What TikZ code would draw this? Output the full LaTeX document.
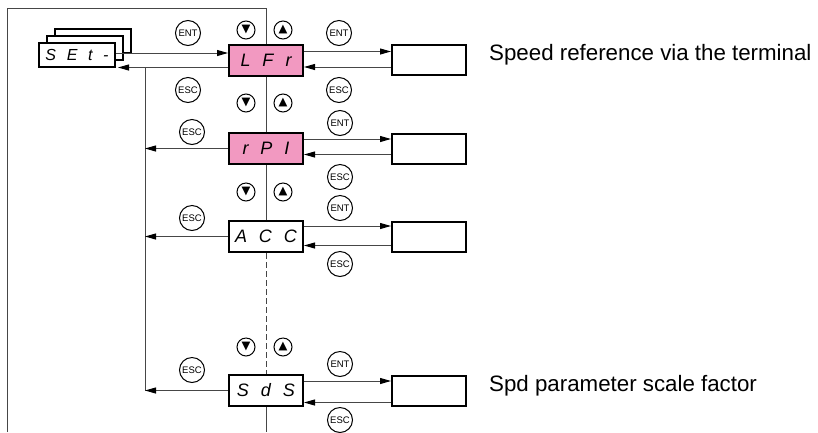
\documentclass[tikz,border=0pt]{standalone}
\usepackage{fontspec}
\setmainfont{Liberation Sans}
\newfontfamily\dispfont[WordSpace=2.4]{Liberation Sans}
\newfontfamily\symfont{DejaVu Sans}
\usetikzlibrary{arrows.meta, positioning}
\definecolor{menupink}{RGB}{242,153,193}
\definecolor{wiregray}{RGB}{70,70,70}
\tikzset{
  display/.style = {rectangle, draw=black, line width=2pt, fill=white, minimum width=74pt, minimum height=31pt, inner sep=0pt, font=\dispfont\itshape\fontsize{18}{20}\selectfont},
  pinkdisplay/.style = {display, fill=menupink},
  menustack/.style = {display, minimum width=76pt, minimum height=24pt, font=\dispfont\itshape\fontsize{16}{18}\selectfont},
  valuebox/.style = {rectangle, draw=black, line width=2pt, minimum width=74pt, minimum height=30pt, inner sep=0pt},
  key/.style = {circle, draw=black, line width=1pt, fill=white, minimum size=25pt, inner sep=0pt, font=\fontsize{9.5}{9.5}\selectfont},
  arrowkey/.style = {circle, draw=black, line width=1pt, fill=white, minimum size=18pt, inner sep=0pt, font=\symfont\fontsize{11.5}{11.5}\selectfont},
  wire/.style = {draw=wiregray, line width=1pt},
  link/.style = {wire, -{Triangle[length=11pt,width=6pt,color=black]}},
  note/.style = {anchor=west, inner sep=0pt, font=\fontsize{22.3}{26}\selectfont}
}
\begin{document}
\begin{tikzpicture}[x=1pt, y=-1pt]
  \useasboundingbox (0,0) rectangle (818,432);

  % Outer frame and menu spine
  \coordinate (spinetop) at (266,8);
  \coordinate (spinebot) at (266,432);
  \coordinate (escbus) at (145,0);
  \draw[wire] (7,432) -- (7,8) -- (spinetop);

  % Menu stack (SEt-)
  \node (set3) [menustack] at (93,41) {};
  \node (set2) [menustack] at (85,48) {};
  \node (set) [menustack] at (77,55) {S E t -};

  % Parameter displays
  \node (lfr) [pinkdisplay] at (266,60) {L F r};
  \node (rpi) [pinkdisplay] at (266,148.5) {r P I};
  \node (acc) [display] at (266,236.5) {A C C};
  \node (sds) [display] at (266,390.5) {S d S};

  % Value boxes
  \node (val1) [valuebox, right=87pt of lfr] {};
  \node (val2) [valuebox, right=87pt of rpi] {};
  \node (val3) [valuebox, right=87pt of acc] {};
  \node (val4) [valuebox, right=87pt of sds] {};

  % Notes
  \node (note1) [note] at (489,55) {Speed reference via the terminal};
  \node (note4) [note] at (489,386) {Spd parameter scale factor};

  % Spine between displays
  \draw[wire] (spinetop) -- (lfr.north);
  \draw[wire] (lfr) -- (rpi);
  \draw[wire] (rpi) -- (acc);
  \draw[wire, dashed, dash pattern=on 6pt off 3pt] (acc) -- (sds);
  \draw[wire] (sds.south) -- (spinebot);

  % SEt- <-> LFr
  \draw[link] ([yshift=2pt]set.east) -- ([yshift=2pt]set.east -| lfr.west);
  \draw[link] ([yshift=9pt]lfr.south west) -- ([yshift=9pt, xshift=2pt]lfr.south west -| set.east);
  \draw[wire] ([yshift=9pt]lfr.south west -| escbus) -- (sds.west -| escbus);

  % ESC back to the menu
  \draw[link] (rpi.west) -- (rpi.west -| escbus);
  \draw[link] (acc.west) -- (acc.west -| escbus);
  \draw[link] (sds.west) -- (sds.west -| escbus);

  % Displays <-> value boxes
  \draw[link] ([yshift=-8pt]lfr.north east) -- ([yshift=-8pt]lfr.north east -| val1.west);
  \draw[link] ([yshift=9pt]val1.south west) -- ([yshift=9pt]val1.south west -| lfr.east);
  \draw[link] ([yshift=-7pt]rpi.north east) -- ([yshift=-7pt]rpi.north east -| val2.west);
  \draw[link] ([yshift=10pt]val2.south west) -- ([yshift=10pt]val2.south west -| rpi.east);
  \draw[link] ([yshift=-6pt]acc.north east) -- ([yshift=-6pt]acc.north east -| val3.west);
  \draw[link] ([yshift=7pt]val3.south west) -- ([yshift=7pt]val3.south west -| acc.east);
  \draw[link] ([yshift=-7pt]sds.north east) -- ([yshift=-7pt]sds.north east -| val4.west);
  \draw[link] ([yshift=4pt]val4.south west) -- ([yshift=4pt]val4.south west -| sds.east);

  % Keys, first row
  \node (dnA) [arrowkey] at (246,30) {▼};
  \node (upA) [arrowkey] at (283,30) {▲};
  \node (entA) [key] at (188,33) {ENT};
  \node (escA) [key] at (188,90) {ESC};
  \node (entA2) [key] at (339,33) {ENT};
  \node (escA2) [key] at (339,90) {ESC};

  % Keys, second row
  \node (dnB) [arrowkey] at (246,103) {▼};
  \node (upB) [arrowkey] at (283,103) {▲};
  \node (escB) [key] at (192,132) {ESC};
  \node (entB2) [key] at (340,123) {ENT};
  \node (escB2) [key] at (340,177) {ESC};

  % Keys, third row
  \node (dnC) [arrowkey] at (246,192) {▼};
  \node (upC) [arrowkey] at (283,192) {▲};
  \node (escC) [key] at (192,218) {ESC};
  \node (entC2) [key] at (340,208) {ENT};
  \node (escC2) [key] at (340,264) {ESC};

  % Keys, last row
  \node (dnD) [arrowkey] at (246,347) {▼};
  \node (upD) [arrowkey] at (283,347) {▲};
  \node (escD) [key] at (192,370) {ESC};
  \node (entD2) [key] at (340,364) {ENT};
  \node (escD2) [key] at (340,420) {ESC};

\end{tikzpicture}
\end{document}
